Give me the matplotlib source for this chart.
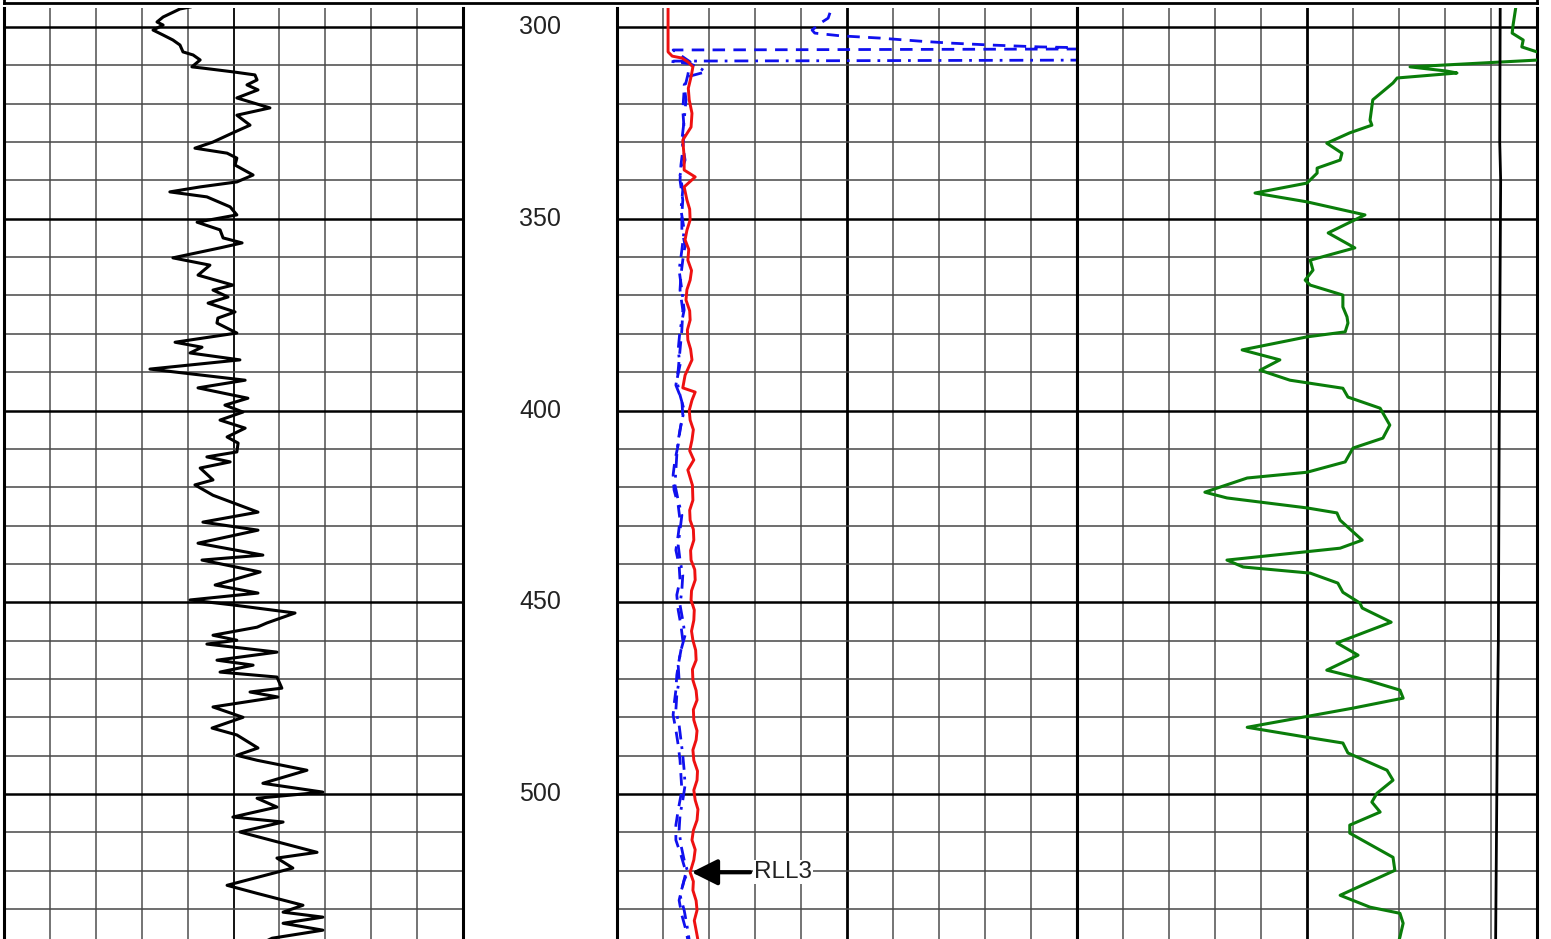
import matplotlib
matplotlib.use("Agg")
import matplotlib.pyplot as plt
from matplotlib.lines import Line2D

plt.rcParams["font.family"] = ["Liberation Sans", "DejaVu Sans"]

W, H = 1551, 939
TOP_DEPTH, BOTTOM_DEPTH = 295.0, 537.8

# ---- track 1: gamma ray (0-150 API)
gr_depth = [294.8, 295.3, 297.4, 298.7, 299.5, 300.8, 302.1, 303.4, 304.7, 306.5,
            307.3, 308.6, 310.4, 310.7, 311.7, 312.5, 313.8, 315.1, 316.4, 318.5,
            321.1, 323.0, 325.6, 327.6, 330.0, 331.6, 332.9, 334.2, 336.0, 338.6,
            340.4, 341.7, 343.0, 344.3, 346.9, 349.0, 350.9, 352.9, 355.0, 356.3,
            357.6, 360.2, 362.1, 364.7, 367.3, 368.6, 370.4, 372.0, 374.3, 375.9,
            377.2, 379.8, 382.2, 383.5, 385.0, 386.8, 389.2, 392.1, 394.1, 396.8,
            398.6, 400.4, 402.5, 404.6, 406.9, 408.5, 410.8, 412.1, 413.4, 415.0,
            418.1, 419.4, 422.1, 426.5, 429.1, 431.2, 434.6, 437.7, 439.0, 442.1,
            445.5, 447.6, 449.4, 450.7, 452.8, 455.4, 456.5, 458.6, 459.9, 460.9,
            463.0, 465.1, 466.4, 468.2, 469.5, 472.4, 473.4, 474.7, 477.3, 480.0,
            482.8, 484.6, 488.0, 489.9, 491.2, 493.8, 497.2, 499.5, 501.1, 503.4,
            506.0, 507.3, 509.9, 515.2, 516.7, 519.3, 523.8, 525.9, 529.0, 530.8,
            532.1, 533.7, 535.5, 537.6, 539.0]
gr_value = [60.8, 57.5, 52.0, 50.0, 52.0, 48.7, 52.0, 55.2, 57.5, 58.5,
            61.8, 64.1, 61.4, 64.7, 74.8, 82.0, 82.7, 79.4, 83.0, 76.1,
            86.9, 76.1, 80.4, 74.8, 68.3, 62.4, 72.9, 76.1, 75.5, 81.4,
            76.1, 64.1, 54.2, 66.3, 73.9, 76.1, 63.1, 70.6, 71.6, 77.8,
            70.6, 55.2, 67.3, 63.4, 74.8, 68.3, 73.2, 66.7, 75.5, 69.9,
            69.6, 76.1, 55.9, 64.7, 60.8, 77.1, 47.7, 78.8, 63.4, 79.7,
            72.2, 78.1, 70.6, 78.8, 72.9, 76.5, 76.1, 66.3, 73.9, 64.1,
            68.3, 62.4, 68.3, 83.0, 65.0, 83.0, 63.4, 84.6, 64.7, 83.7,
            69.0, 83.0, 60.8, 74.8, 95.1, 85.9, 82.7, 68.3, 76.1, 66.3,
            89.2, 69.6, 81.4, 70.6, 89.2, 90.8, 80.4, 89.5, 68.3, 78.1,
            68.0, 76.1, 83.0, 76.1, 82.7, 99.0, 84.6, 104.2, 82.7, 89.2,
            74.8, 91.2, 77.1, 102.3, 89.2, 94.4, 72.9, 82.7, 97.7, 91.2,
            104.2, 91.2, 104.2, 87.6, 84.0]

# ---- track 2: resistivity (0-10 ohm.m)
rll3_depth = [294.8, 306.5, 307.6, 308.1, 309.1, 310.4, 313.0, 316.0, 319.0, 322.5,
              326.1, 329.5, 333.9, 337.3, 339.1, 341.7, 345.1, 347.5, 350.3, 353.0,
              355.5, 358.0, 360.8, 363.5, 366.0, 368.5, 371.2, 374.0, 376.4, 379.0,
              381.6, 384.0, 386.8, 390.8, 394.1, 395.2, 397.3, 400.0, 402.5, 405.0,
              407.7, 410.5, 412.9, 415.5, 419.5, 423.4, 426.0, 428.6, 431.0, 433.8,
              436.5, 439.0, 441.5, 444.2, 447.0, 449.4, 452.0, 454.7, 457.5, 459.9,
              462.5, 465.1, 467.5, 470.3, 473.0, 475.5, 478.0, 480.7, 483.5, 485.9,
              488.5, 491.2, 494.0, 496.4, 499.0, 501.6, 504.0, 506.8, 509.5, 512.0,
              514.5, 517.2, 520.4, 522.8, 525.1, 527.8, 530.3, 533.0, 535.5, 538.1]
rll3_value = [1.11, 1.11, 1.20, 1.41, 1.54, 1.65, 1.61, 1.55, 1.57, 1.63,
              1.61, 1.43, 1.46, 1.46, 1.70, 1.46, 1.52, 1.58, 1.59, 1.52,
              1.48, 1.56, 1.54, 1.62, 1.59, 1.52, 1.50, 1.58, 1.59, 1.53,
              1.54, 1.60, 1.63, 1.48, 1.43, 1.70, 1.63, 1.57, 1.59, 1.66,
              1.63, 1.58, 1.67, 1.54, 1.64, 1.65, 1.58, 1.59, 1.66, 1.67,
              1.60, 1.61, 1.69, 1.70, 1.62, 1.61, 1.68, 1.67, 1.62, 1.65,
              1.71, 1.72, 1.64, 1.65, 1.72, 1.74, 1.66, 1.67, 1.74, 1.72,
              1.65, 1.67, 1.75, 1.74, 1.67, 1.70, 1.76, 1.74, 1.66, 1.63,
              1.70, 1.67, 1.59, 1.66, 1.65, 1.72, 1.74, 1.68, 1.72, 1.76]

rll1_depth = [296.3, 297.7, 298.7, 300.8, 301.6, 302.3, 302.9, 303.7, 304.2, 304.7,
              305.2, 305.5, 305.7, 306.0, 307.3, 309.1, 312.5, 316.4, 321.6, 326.9,
              332.1, 336.0, 339.9, 345.1, 348.9, 352.9, 356.9, 360.8, 364.7, 368.6,
              373.8, 379.0, 384.2, 389.5, 393.4, 397.3, 401.2, 405.1, 409.0, 412.9,
              416.8, 420.7, 424.7, 428.6, 432.5, 436.4, 440.3, 444.2, 448.1, 452.0,
              456.0, 459.9, 465.1, 469.0, 472.9, 476.8, 479.4, 483.3, 487.2, 491.2,
              495.1, 499.0, 504.2, 508.1, 512.0, 515.9, 520.4, 523.8, 527.7, 531.6,
              535.5, 538.1]
rll1_value = [4.63, 4.59, 4.46, 4.24, 4.30, 4.85, 5.72, 6.59, 7.24, 8.11,
              9.20, 10.5, 11.6, 1.22, 1.37, 1.59, 1.54, 1.46, 1.43, 1.46,
              1.43, 1.39, 1.37, 1.43, 1.41, 1.41, 1.48, 1.43, 1.39, 1.37,
              1.43, 1.41, 1.37, 1.33, 1.28, 1.41, 1.43, 1.37, 1.33, 1.26,
              1.22, 1.24, 1.33, 1.37, 1.33, 1.28, 1.35, 1.37, 1.30, 1.33,
              1.39, 1.43, 1.35, 1.30, 1.28, 1.24, 1.22, 1.28, 1.33, 1.37,
              1.39, 1.41, 1.33, 1.28, 1.28, 1.39, 1.50, 1.43, 1.35, 1.41,
              1.50, 1.54]

rll2_depth = [294.8, 308.6, 308.9, 309.6, 310.7, 311.7, 312.8, 315.1, 319.0, 324.3,
              329.5, 334.7, 338.6, 342.5, 347.7, 352.9, 358.2, 363.4, 368.6, 373.8,
              379.0, 384.2, 388.1, 392.1, 396.0, 399.9, 403.8, 407.7, 411.6, 415.5,
              419.4, 423.4, 427.3, 431.2, 435.1, 439.0, 442.9, 446.8, 450.7, 454.7,
              458.6, 462.5, 466.4, 470.3, 474.2, 478.1, 482.0, 485.9, 489.9, 493.8,
              497.7, 501.6, 505.5, 509.4, 513.3, 517.2, 520.4, 522.5, 526.4, 530.3,
              534.2, 538.1]
rll2_value = [12.0, 11.6, 1.13, 1.59, 1.80, 1.93, 1.59, 1.46, 1.50, 1.46,
              1.41, 1.48, 1.37, 1.43, 1.39, 1.46, 1.41, 1.35, 1.41, 1.46,
              1.37, 1.33, 1.37, 1.30, 1.37, 1.46, 1.39, 1.33, 1.30, 1.28,
              1.26, 1.33, 1.41, 1.37, 1.33, 1.37, 1.43, 1.41, 1.37, 1.43,
              1.48, 1.39, 1.33, 1.35, 1.30, 1.28, 1.35, 1.39, 1.43, 1.46,
              1.48, 1.43, 1.37, 1.35, 1.39, 1.46, 1.54, 1.46, 1.37, 1.46,
              1.52, 1.57]

# ---- track 3 (0-100)
green_depth = [294.8, 299.5, 301.6, 303.4, 305.2, 306.5, 307.5, 308.6, 310.4, 311.5,
               312.0, 313.3, 314.6, 319.0, 324.3, 325.6, 327.6, 330.3, 332.9, 334.7,
               336.8, 338.1, 340.7, 343.3, 345.6, 349.0, 353.7, 357.6, 360.8, 363.4,
               366.0, 367.3, 369.9, 373.0, 375.6, 377.2, 379.5, 380.8, 384.2, 386.8,
               389.5, 392.1, 394.2, 396.5, 399.4, 403.8, 407.2, 409.8, 413.4, 416.1,
               417.6, 421.3, 422.8, 425.4, 426.7, 428.6, 433.8, 435.9, 439.0, 440.8,
               442.4, 445.0, 447.4, 450.2, 451.5, 455.2, 457.8, 460.6, 463.8, 467.7,
               470.3, 472.9, 475.0, 477.6, 482.6, 485.2, 486.7, 489.3, 493.8, 496.4,
               499.8, 502.1, 504.7, 508.1, 510.2, 516.5, 519.9, 526.4, 529.5, 531.1,
               533.7, 537.3, 539.0]
green_value = [95.4, 94.8, 94.6, 97.0, 96.7, 100.0, 103.0, 100.5, 72.4, 80.4,
               82.6, 69.6, 68.7, 64.3, 63.7, 64.1, 59.3, 54.3, 57.6, 57.2,
               52.2, 52.2, 50.0, 38.7, 50.0, 62.6, 54.6, 60.4, 50.7, 51.3,
               49.6, 50.7, 57.8, 57.8, 58.7, 58.9, 58.3, 50.0, 35.9, 44.1,
               39.8, 46.3, 57.8, 58.9, 65.9, 68.0, 66.5, 60.0, 58.3, 50.0,
               37.0, 27.8, 32.6, 50.0, 56.5, 57.2, 62.0, 57.2, 32.6, 36.1,
               50.7, 56.7, 57.8, 61.5, 62.0, 68.3, 62.6, 56.5, 61.1, 54.3,
               63.0, 70.2, 70.9, 60.0, 37.0, 50.0, 57.8, 58.9, 67.4, 68.7,
               65.2, 64.1, 65.9, 59.3, 59.3, 68.7, 69.1, 57.2, 63.7, 70.2,
               70.9, 70.2, 69.8]

black3_depth = [294.8, 330.0, 340.0, 400.0, 460.0, 480.0, 539.0]
black3_value = [92.0, 91.9, 92.1, 91.8, 91.6, 91.4, 91.0]

depth_labels = [300, 350, 400, 450, 500]


def px_to_fig(x0, x1):
    return x0 / W, (x1 - x0) / W


def setup_track(ax, xmax, mid):
    ax.set_xlim(0, xmax)
    ax.set_ylim(BOTTOM_DEPTH, TOP_DEPTH)
    step = xmax / 10
    for i in range(1, 10):
        x = i * step
        if i == 5:
            ax.axvline(x, color="black", lw=mid, zorder=1)
        else:
            ax.axvline(x, color="#4e4e4e", lw=1.1, zorder=1)
    for d in range(300, 540, 10):
        if d % 50 == 0:
            ax.axhline(d, color="black", lw=1.8, zorder=1.2)
        else:
            ax.axhline(d, color="#474747", lw=1.1, zorder=1.1)
    ax.set_xticks([])
    ax.set_yticks([])
    for side in ["top", "bottom"]:
        ax.spines[side].set_visible(False)
    for side in ["left", "right"]:
        ax.spines[side].set_linewidth(2.2)
        ax.spines[side].set_color("black")


fig = plt.figure(figsize=(W / 100, H / 100), dpi=100)
top = 1 - 7.8 / H

l, w = px_to_fig(4, 463)
ax1 = fig.add_axes([l, 0, w, top])
setup_track(ax1, 150, 1.3)
ax1.plot(gr_value, gr_depth, color="black", lw=2.2, zorder=3)

l, w = px_to_fig(463, 617)
axd = fig.add_axes([l, 0, w, top])
axd.set_xlim(0, 1)
axd.set_ylim(BOTTOM_DEPTH, TOP_DEPTH)
axd.axis("off")
for d in depth_labels:
    axd.text(0.5, d, str(d), ha="center", va="center", fontsize=18, color="#222222")

l, w = px_to_fig(617, 1077)
ax2 = fig.add_axes([l, 0, w, top])
setup_track(ax2, 10, 2.0)
ax2.plot(rll1_value, rll1_depth, color="#1010ee", lw=2.0, dashes=(4.5, 3.0), zorder=3)
ax2.plot(rll2_value, rll2_depth, color="#1010ee", lw=2.0, dashes=(5, 2.5, 1, 2.5), zorder=3)
ax2.plot(rll3_value, rll3_depth, color="#ee1111", lw=2.1, zorder=4)
ax2.annotate("RLL3", xy=(1.62, 520.4), xytext=(2.98, 520.4), ha="left", va="center",
             fontsize=17.5, color="#222222",
             bbox=dict(boxstyle="square,pad=0.05", fc="white", ec="none"),
             arrowprops=dict(arrowstyle="-|>,head_length=0.9,head_width=0.45",
                             color="black", lw=3, shrinkA=2, shrinkB=0),
             zorder=5)

l, w = px_to_fig(1077, 1537)
ax3 = fig.add_axes([l, 0, w, top])
setup_track(ax3, 100, 2.0)
ax3.plot(green_value, green_depth, color="#0a7d0a", lw=2.2, zorder=3)
ax3.plot(black3_value, black3_depth, color="black", lw=2.0, zorder=3)

# header frame bottom edge
fig.add_artist(Line2D([4 / W, 1537 / W], [1 - 3 / H, 1 - 3 / H], color="black", lw=2.0))
fig.add_artist(Line2D([4 / W, 4 / W], [1 - 3 / H, 1], color="black", lw=2.0))
fig.add_artist(Line2D([1537 / W, 1537 / W], [1 - 3 / H, 1], color="black", lw=2.0))

fig.savefig("out.png", dpi=100)
